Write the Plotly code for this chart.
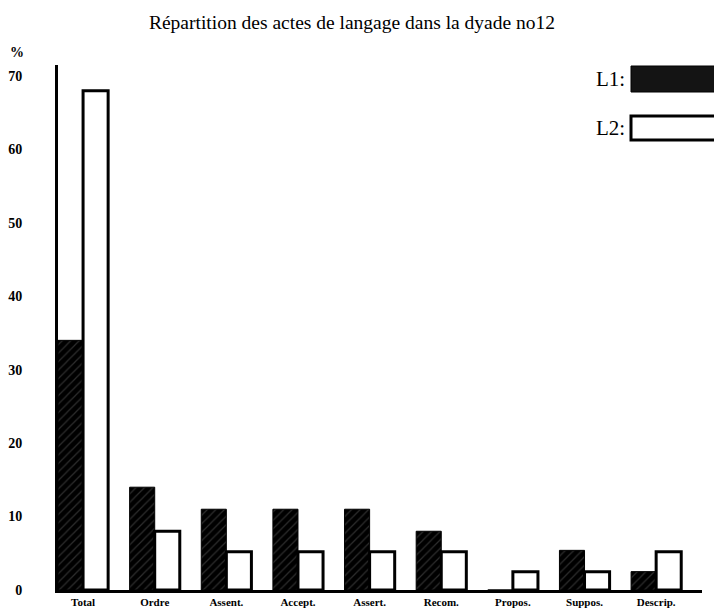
import plotly.graph_objects as go

categories = ["Total", "Ordre", "Assent.", "Accept.", "Assert.", "Recom.", "Propos.", "Suppos.", "Descrip."]
l1_values = [34, 14, 11, 11, 11, 8, 0, 5.4, 2.5]
l2_values = [68, 8, 5.2, 5.2, 5.2, 5.2, 2.5, 2.5, 5.2]
y_ticks = [0, 10, 20, 30, 40, 50, 60, 70]

FONT = "Liberation Serif"

fig = go.Figure()
fig.add_trace(go.Bar(
    x=categories, y=l1_values, name="L1",
    marker=dict(color="#000000",
                line=dict(color="#000000", width=1),
                pattern=dict(shape="/", fgcolor="#5a5a5a", bgcolor="#000000", size=6, solidity=0.2)),
))
fig.add_trace(go.Bar(
    x=categories, y=l2_values, name="L2",
    marker=dict(color="#ffffff", line=dict(color="#000000", width=3)),
))

fig.update_layout(
    width=714, height=609,
    margin=dict(l=58, r=12, t=65, b=19, autoexpand=False),
    paper_bgcolor="white", plot_bgcolor="white",
    barmode="group", bargap=0.3, bargroupgap=0,
    showlegend=False,
    font=dict(family=FONT, color="black"),
    title=dict(text="Répartition des actes de langage dans la dyade no12",
               x=0.493, xanchor="center", y=1 - 22 / 609, yanchor="middle",
               font=dict(family=FONT, size=19.5, color="black")),
)
fig.update_xaxes(
    range=[-0.35, 8.64], showline=True, linewidth=3, linecolor="black",
    ticks="", showgrid=False, zeroline=False, automargin=False,
    tickfont=dict(family=FONT, size=11, color="black", weight="bold"),
    ticklabelstandoff=0,
)
fig.update_yaxes(
    range=[0, 71.5], showline=True, linewidth=3, linecolor="black",
    tickvals=y_ticks, ticks="", showgrid=False, zeroline=False, automargin=False,
    tickfont=dict(family=FONT, size=14, color="black", weight="bold"),
    ticklabelstandoff=30,
)

# "%" unit label above the y axis
fig.add_annotation(text="<b>%</b>", xref="paper", yref="paper",
                   x=(17 - 58) / 644, y=(590 - 52) / 525, showarrow=False,
                   xanchor="center", yanchor="middle",
                   font=dict(family=FONT, size=14, color="black"))

# Custom legend
fig.add_annotation(text="L1:", xref="paper", yref="paper", xanchor="right", yanchor="middle",
                   x=(627 - 58) / 644, y=(590 - 79) / 525, showarrow=False,
                   font=dict(family=FONT, size=21, color="black"))
fig.add_annotation(text="L2:", xref="paper", yref="paper", xanchor="right", yanchor="middle",
                   x=(627 - 58) / 644, y=(590 - 128) / 525, showarrow=False,
                   font=dict(family=FONT, size=21, color="black"))
fig.add_shape(type="rect", xref="paper", yref="paper",
              x0=(631 - 58) / 644, x1=(716 - 58) / 644,
              y0=(590 - 92) / 525, y1=(590 - 66) / 525,
              fillcolor="#141414", line=dict(color="black", width=1))
fig.add_shape(type="rect", xref="paper", yref="paper",
              x0=(631 - 58) / 644, x1=(716 - 58) / 644,
              y0=(590 - 140) / 525, y1=(590 - 116) / 525,
              fillcolor="white", line=dict(color="black", width=3))

fig.write_html("out.html",
               config={"displayModeBar": False, "staticPlot": True},
               post_script="document.body.style.margin='0px';document.body.style.padding='0px';")
